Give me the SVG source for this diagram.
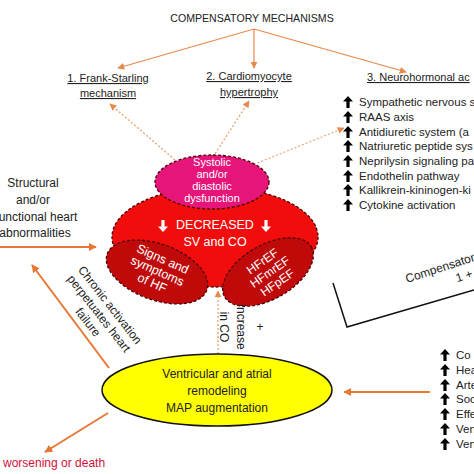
<svg xmlns="http://www.w3.org/2000/svg" width="474" height="474" viewBox="0 0 474 474">
<style>
text{font-family:"Liberation Sans",Arial,sans-serif;font-size:11px;fill:#222}
.c{text-anchor:middle}
.u{text-decoration:underline}
.w{fill:#fff}
.lst{font-size:11.5px}
.sol{stroke:#e67835;stroke-width:2;fill:none}
.thin{stroke:#e8884a;stroke-width:1.2;fill:none}
.dot{stroke:#eaa070;stroke-width:1.3;stroke-dasharray:2,2;fill:none}
.dash{stroke:#4a0000;stroke-width:1.3;stroke-dasharray:3,2}
</style>
<defs>
<marker id="ah" viewBox="0 0 10 10" refX="9" refY="5" markerWidth="8" markerHeight="8" markerUnits="userSpaceOnUse" orient="auto"><path d="M0,0L10,5L0,10z" fill="#e67835"/></marker>
<marker id="ahd" viewBox="0 0 10 10" refX="9" refY="5" markerWidth="7" markerHeight="7" markerUnits="userSpaceOnUse" orient="auto"><path d="M0,0L10,5L0,10z" fill="#e8884a"/></marker>
<path id="up" d="M0,-6L5,-0.5L1.6,-0.5L1.6,6L-1.6,6L-1.6,-0.5L-5,-0.5z"/>
</defs>

<g id="connectors">
<line class="thin" x1="254" y1="29" x2="118" y2="68" marker-end="url(#ahd)"/>
<line class="thin" x1="254" y1="29" x2="254" y2="68" marker-end="url(#ahd)"/>
<line class="thin" x1="254" y1="29" x2="406" y2="72" marker-end="url(#ahd)"/>
<line class="dot" x1="175" y1="160" x2="110" y2="104" marker-end="url(#ahd)"/>
<line class="dot" x1="213" y1="157" x2="249" y2="101" marker-end="url(#ahd)"/>
<line class="dot" x1="250" y1="166" x2="344" y2="128" marker-end="url(#ahd)"/>
<line class="sol" x1="0" y1="247" x2="96" y2="247" marker-end="url(#ah)"/>
<line class="sol" x1="109" y1="368" x2="32" y2="265" marker-end="url(#ah)"/>
<line class="dot" x1="218" y1="362" x2="218" y2="291" marker-end="url(#ahd)"/>
<line class="sol" x1="430" y1="392" x2="344" y2="392" marker-end="url(#ah)"/>
<line class="sol" x1="108" y1="413" x2="45" y2="452" marker-end="url(#ah)"/>
<polyline points="333,283 347,327 474,290" fill="none" stroke="#111" stroke-width="1.5"/>
</g>

<g id="title"><text class="c" x="252" y="22" style="font-size:10.6px">COMPENSATORY MECHANISMS</text></g>

<g id="frank-starling">
<text class="c u" x="108" y="82">1. Frank-Starling</text>
<text class="c u" x="108" y="97">mechanism</text>
</g>
<g id="hypertrophy">
<text class="c u" x="249" y="80">2. Cardiomyocyte</text>
<text class="c u" x="249" y="96">hypertrophy</text>
</g>
<g id="neurohormonal">
<text class="u" x="367" y="81">3. Neurohormonal ac</text>
</g>

<g id="neuro-list">
<use href="#up" x="348" y="102" fill="#000"/><text class="lst" x="359" y="106">Sympathetic nervous s</text>
<use href="#up" x="348" y="117" fill="#000"/><text class="lst" x="359" y="121">RAAS axis</text>
<use href="#up" x="348" y="132" fill="#000"/><text class="lst" x="359" y="136">Antidiuretic system (a</text>
<use href="#up" x="348" y="146" fill="#000"/><text class="lst" x="359" y="150">Natriuretic peptide sys</text>
<use href="#up" x="348" y="161" fill="#000"/><text class="lst" x="359" y="165">Neprilysin signaling pa</text>
<use href="#up" x="348" y="176" fill="#000"/><text class="lst" x="359" y="180">Endothelin pathway</text>
<use href="#up" x="348" y="190" fill="#000"/><text class="lst" x="359" y="194">Kallikrein-kininogen-ki</text>
<use href="#up" x="348" y="205" fill="#000"/><text class="lst" x="359" y="209">Cytokine activation</text>
</g>

<g id="structural">
<text class="c" x="33" y="187" style="font-size:12px">Structural</text>
<text class="c" x="33" y="204" style="font-size:12px">and/or</text>
<text class="c" x="38" y="221" style="font-size:12px">unctional heart</text>
<text class="c" x="35" y="237" style="font-size:12px">abnormalities</text>
</g>

<g id="decreased">
<ellipse cx="215" cy="237" rx="103" ry="50" fill="#f20d0d" class="dash"/>
<use href="#up" transform="translate(163,226) rotate(180)" fill="#fff"/>
<use href="#up" transform="translate(266,226) rotate(180)" fill="#fff"/>
<text class="c w" x="215" y="229" style="font-size:12.5px">DECREASED</text>
<text class="c w" x="215" y="246" style="font-size:12.5px">SV and CO</text>
</g>

<g id="dysfunction">
<ellipse cx="212" cy="182" rx="57" ry="27" fill="#e6157a" class="dash"/>
<text class="c w" x="212" y="166" style="font-size:11px">Systolic</text>
<text class="c w" x="212" y="178" style="font-size:11px">and/or</text>
<text class="c w" x="212" y="190" style="font-size:11px">diastolic</text>
<text class="c w" x="212" y="202" style="font-size:11px">dysfunction</text>
</g>

<g id="signs">
<ellipse cx="157" cy="272" rx="53" ry="28" transform="rotate(20 157 272)" fill="#c00a0a" class="dash"/>
<g transform="rotate(24 157 272)">
<text class="c w" x="157" y="262" style="font-size:12.5px">Signs and</text>
<text class="c w" x="157" y="275" style="font-size:12.5px">symptoms</text>
<text class="c w" x="157" y="288" style="font-size:12.5px">of HF</text>
</g>
</g>

<g id="hf-types">
<ellipse cx="268" cy="272" rx="50" ry="27" transform="rotate(-30 268 272)" fill="#c00a0a" class="dash"/>
<g transform="rotate(-35 270 272)">
<text class="c w" x="270" y="263" style="font-size:12px">HFrEF</text>
<text class="c w" x="270" y="276" style="font-size:12px">HFmrEF</text>
<text class="c w" x="270" y="289" style="font-size:12px">HFpEF</text>
</g>
</g>

<g id="chronic" transform="translate(110,305) rotate(52)">
<text class="c" x="0" y="4" style="font-size:12px">Chronic activation</text>
<text class="c" x="0" y="18" style="font-size:12px">perpetuates heart</text>
<text class="c" x="0" y="32" style="font-size:12px">failure</text>
</g>

<g id="increase">
<g transform="rotate(90 230 327)">
<text class="c" x="230" y="320" style="font-size:12px">increase</text>
<text class="c" x="230" y="337" style="font-size:12px">in CO</text>
</g>
<text class="c" x="260" y="331" style="font-size:12px">+</text>
</g>

<g id="remodeling">
<ellipse cx="217" cy="390" rx="115" ry="36" fill="#ffff00" stroke="#111" stroke-width="1.5"/>
<text class="c" x="217" y="378" style="font-size:12px">Ventricular and atrial</text>
<text class="c" x="217" y="395" style="font-size:12px">remodeling</text>
<text class="c" x="217" y="412" style="font-size:12px">MAP augmentation</text>
</g>

<g id="compensatory" transform="rotate(-18 440 268)">
<text x="404" y="272" style="font-size:12px">Compensator</text>
<text x="452" y="287" style="font-size:12px">1 +</text>
</g>

<g id="effects-list">
<use href="#up" x="445" y="355" fill="#000"/><text class="lst" x="456" y="359">Co</text>
<use href="#up" x="445" y="370" fill="#000"/><text class="lst" x="456" y="374">Hea</text>
<use href="#up" x="445" y="385" fill="#000"/><text class="lst" x="456" y="389">Arte</text>
<use href="#up" x="445" y="399" fill="#000"/><text class="lst" x="456" y="403">Soc</text>
<use href="#up" x="445" y="414" fill="#000"/><text class="lst" x="456" y="418">Effe</text>
<use href="#up" x="445" y="429" fill="#000"/><text class="lst" x="456" y="433">Ven</text>
<use href="#up" x="445" y="444" fill="#000"/><text class="lst" x="456" y="448">Ven</text>
</g>

<g id="worsening"><text x="3" y="467" style="font-size:12px;fill:#d0103a">worsening or death</text></g>
</svg>
